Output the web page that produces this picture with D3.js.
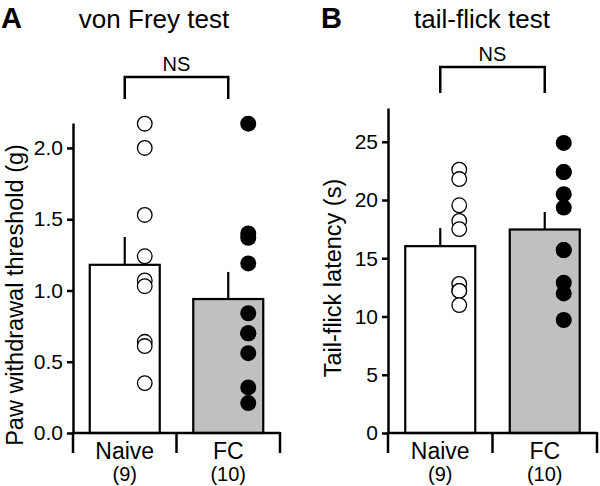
<!DOCTYPE html>
<html><head><meta charset="utf-8">
<script src="https://cdn.jsdelivr.net/npm/d3@7"></script>
<style>
body{margin:0;background:#fff;}
svg{display:block;font-family:"Liberation Sans",Arial,Helvetica,sans-serif;}
</style></head>
<body><svg id="c" width="600" height="486"></svg>
<script>
// ---- data ----
const groups = ["Naive", "FC"];
const groupN = ["(9)", "(10)"];
// Panel A: von Frey
const vfMeans = [1.18, 0.94];
const vfSem = [0.195, 0.19];
const vfNaive = [2.17, 2.0, 1.53, 1.24, 1.07, 1.03, 0.64, 0.61, 0.35];
const vfFC = [2.17, 1.40, 1.37, 1.19, 0.84, 0.70, 0.70, 0.56, 0.32, 0.21];
const vfTicks = [0, 0.5, 1.0, 1.5, 2.0];
// Panel B: tail-flick
const tfMeans = [16.04, 17.47];
const tfSem = [1.55, 1.5];
const tfNaive = [22.6, 21.8, 19.55, 18.2, 17.5, 12.8, 12.2, 12.2, 10.98];
const tfFC = [24.9, 22.4, 22.4, 20.5, 19.35, 15.7, 15.7, 12.9, 11.98, 9.7];
const tfTicks = [0, 5, 10, 15, 20, 25];

const svg = d3.select("#c");
const fillCols = ["#ffffff", "#c0c0c0"];

function panel(o) {
  const g = svg.append("g");
  const x = d3.scaleBand().domain(groups).range([o.x0, o.x1]).paddingInner(0).paddingOuter(0);
  const y = d3.scaleLinear().domain([0, o.ymax]).range([433, o.ytop]);
  const bw = o.barW;
  const cx = d => x(d) + x.bandwidth() / 2;

  // title & letter
  g.append("text").attr("x", o.letterX).attr("y", 28).attr("font-size", 29).attr("font-weight", "bold").text(o.letter);
  g.append("text").attr("x", o.titleX).attr("y", 28).attr("font-size", 26).attr("text-anchor", "middle").text(o.title);

  // y axis
  const ya = d3.axisLeft(y).tickValues(o.ticks).tickFormat(o.fmt).tickSize(6).tickSizeOuter(0).tickPadding(4);
  const yg = g.append("g").attr("transform", `translate(${o.x0},0)`).call(ya);
  yg.select(".domain").attr("stroke-width", 2.5);
  yg.selectAll(".tick line").attr("stroke-width", 2.5);
  yg.selectAll(".tick text").attr("font-size", 21).attr("font-family", "Liberation Sans, Arial, sans-serif").attr("fill", "#000");

  // y label
  g.append("text").attr("transform", `translate(${o.ylabX},${o.ylabY}) rotate(-90)`)
    .attr("text-anchor", "middle").attr("font-size", 23.5).text(o.ylab);

  // bars
  groups.forEach((gr, i) => {
    g.append("rect").attr("x", cx(gr) - bw / 2).attr("y", y(o.means[i]))
      .attr("width", bw).attr("height", y(0) - y(o.means[i]))
      .attr("fill", fillCols[i]).attr("stroke", "#000").attr("stroke-width", 2.2);
    g.append("line").attr("x1", cx(gr)).attr("x2", cx(gr))
      .attr("y1", y(o.means[i])).attr("y2", y(o.means[i] + o.sem[i]))
      .attr("stroke", "#000").attr("stroke-width", 2.2);
  });

  // x axis
  const xa = d3.axisBottom(x).tickSize(0).tickFormat("");
  const xg = g.append("g").attr("transform", "translate(0,433)").call(xa);
  xg.select(".domain").remove();
  g.append("line").attr("x1", o.x0).attr("x2", o.x1).attr("y1", 433).attr("y2", 433).attr("stroke", "#000").attr("stroke-width", 2.5);
  const bounds = [x(groups[0]), x(groups[1]), x(groups[1]) + x.bandwidth()];
  bounds.forEach(b => g.append("line").attr("x1", b).attr("x2", b).attr("y1", 432).attr("y2", 453).attr("stroke", "#000").attr("stroke-width", 2.5));
  groups.forEach((gr, i) => {
    g.append("text").attr("x", cx(gr)).attr("y", 459).attr("text-anchor", "middle").attr("font-size", 23).text(gr);
    g.append("text").attr("x", cx(gr)).attr("y", 481).attr("text-anchor", "middle").attr("font-size", 20).text(groupN[i]);
  });

  // points
  g.selectAll(".pn").data(o.ptsNaive).join("circle")
    .attr("cx", cx(groups[0]) + o.dotOff).attr("cy", d => y(d)).attr("r", 7.3)
    .attr("fill", "#fff").attr("stroke", "#000").attr("stroke-width", 1.3);
  g.selectAll(".pf").data(o.ptsFC).join("circle")
    .attr("cx", cx(groups[1]) + o.dotOff).attr("cy", d => y(d)).attr("r", 8)
    .attr("fill", "#000");

  // significance bracket
  const bx1 = cx(groups[0]), bx2 = cx(groups[1]);
  g.append("path").attr("d", `M${bx1},${o.brBot}V${o.brTop}H${bx2}V${o.brBot}`)
    .attr("fill", "none").attr("stroke", "#000").attr("stroke-width", 2.5);
  g.append("text").attr("x", (bx1 + bx2) / 2).attr("y", o.brTop - 6).attr("text-anchor", "middle").attr("font-size", 20).text("NS");
}

panel({
  x0: 73, x1: 280, ymax: 2.175, ytop: 123, barW: 70, dotOff: 20,
  letter: "A", letterX: 1, title: "von Frey test", titleX: 154,
  ticks: vfTicks, fmt: d3.format(".1f"),
  ylab: "Paw withdrawal threshold (g)", ylabX: 23, ylabY: 295,
  means: vfMeans, sem: vfSem, ptsNaive: vfNaive, ptsFC: vfFC,
  brTop: 77, brBot: 99
});
panel({
  x0: 388, x1: 597, ymax: 27.9, ytop: 108, barW: 70, dotOff: 19,
  letter: "B", letterX: 321, title: "tail-flick test", titleX: 482,
  ticks: tfTicks, fmt: d3.format("d"),
  ylab: "Tail-flick latency (s)", ylabX: 341, ylabY: 278,
  means: tfMeans, sem: tfSem, ptsNaive: tfNaive, ptsFC: tfFC,
  brTop: 67, brBot: 93
});
</script></body></html>
